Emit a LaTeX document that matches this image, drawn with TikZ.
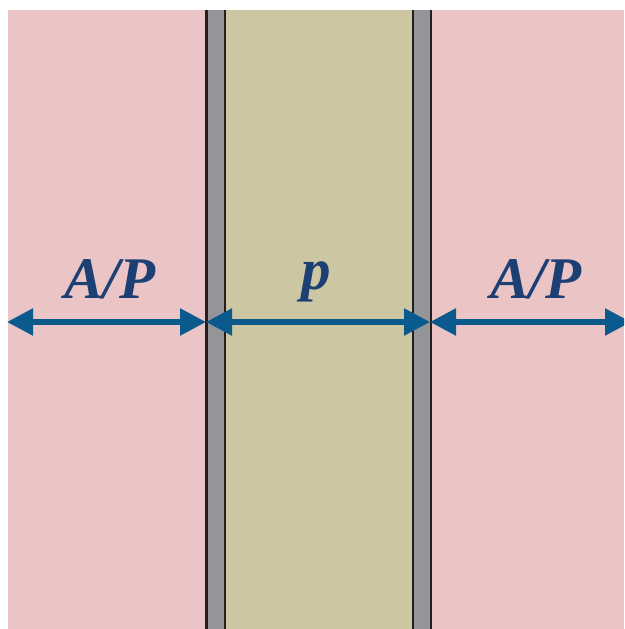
\documentclass[tikz,border=0pt]{standalone}
\usepackage{fontspec}
\setmainfont{Liberation Serif}
\usetikzlibrary{arrows.meta}
\definecolor{pinkbg}{HTML}{EBC5C5}
\definecolor{tanbg}{HTML}{CCC6A3}
\definecolor{graybar}{HTML}{939598}
\definecolor{darkline}{HTML}{231F20}
\definecolor{arrowblue}{HTML}{0B5A8E}
\definecolor{textblue}{HTML}{1C3F74}
\begin{document}
\begin{tikzpicture}[x=1pt,y=-1pt,
  dim/.style={draw=arrowblue,line width=5.5pt,{Triangle[length=26pt,width=26pt]}-{Triangle[length=26pt,width=26pt]}},
  lbl/.style={text=textblue,font=\fontsize{59}{62}\selectfont\bfseries\itshape,anchor=base,inner sep=0pt},
  edge/.style={draw=darkline,line width=2.5pt}]
\useasboundingbox (0,0) rectangle (624,629);
\clip (0,0) rectangle (624,629);
\fill[white] (0,0) rectangle (624,629);
\fill[pinkbg] (8,10) rectangle (624,629);
\fill[tanbg] (226,10) rectangle (412,629);
\fill[graybar] (206,10) rectangle (226,629);
\fill[graybar] (412,10) rectangle (432,629);
\draw[edge] (206.5,10) -- (206.5,629);
\draw[edge] (225.2,10) -- (225.2,629);
\draw[edge] (412.8,10) -- (412.8,629);
\draw[edge] (431.2,10) -- (431.2,629);
\coordinate (L) at (7,322);
\coordinate (B1) at (206,322);
\coordinate (B2) at (430,322);
\coordinate (R) at (631,322);
\draw[dim] (L) -- (B1);
\draw[dim] (B1) -- (B2);
\draw[dim] (B2) -- (R);
\node[lbl] (t1) at (110,298) {A/P};
\node[lbl] (t2) at (316,289) {p};
\node[lbl] (t3) at (536,298) {A/P};
\end{tikzpicture}
\end{document}
